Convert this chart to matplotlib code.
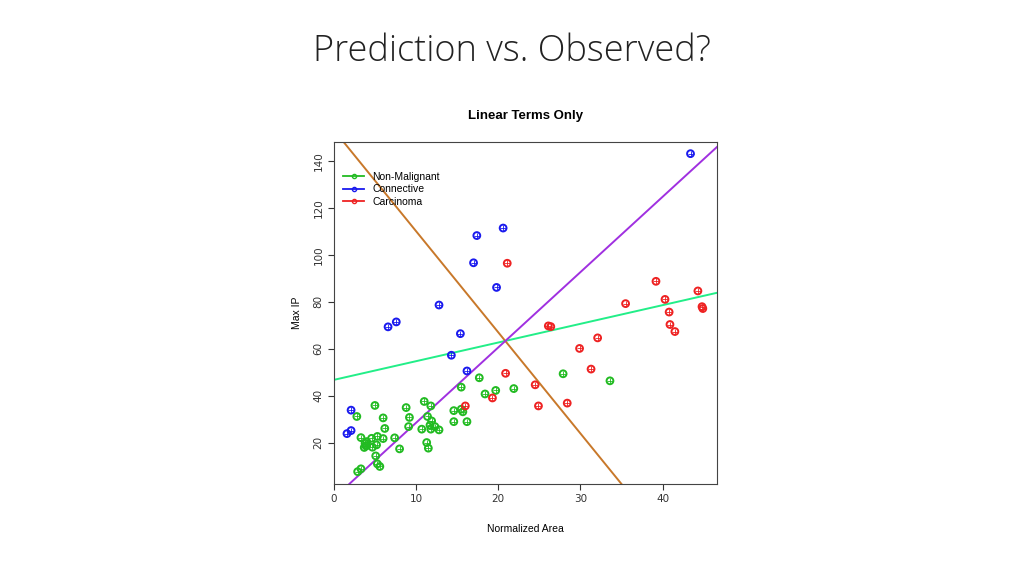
import matplotlib
matplotlib.use("Agg")
import matplotlib.pyplot as plt
from matplotlib.lines import Line2D

green_x = [2.8,2.9,3.3,3.3,3.7,3.8,3.9,4.0,4.0,4.6,4.7,5.0,5.1,5.2,5.3,5.3,5.6,6.0,6.0,6.2,7.4,8.0,8.8,9.2,9.1,10.7,11.0,11.3,11.5,11.4,11.8,11.7,11.9,11.8,12.3,12.8,14.6,14.6,15.5,15.7,15.5,16.2,17.7,18.4,19.7,21.9,27.9,33.6]
green_y = [31.1,7.6,8.8,22.1,17.9,19.7,18.6,20.4,18.7,21.8,18.0,35.8,14.3,19.0,22.6,10.9,9.8,30.5,21.7,26.0,22.0,17.3,34.9,30.7,26.8,25.7,37.5,20.0,17.6,31.1,35.6,27.4,29.2,25.7,26.8,25.4,33.6,28.9,34.2,33.1,43.6,28.9,47.6,40.7,42.2,43.0,49.3,46.3]
blue_x = [43.4,17.4,20.6,17.0,19.8,12.8,7.6,6.6,15.4,14.3,16.2,2.1,2.1,1.6]
blue_y = [143.1,108.2,111.4,96.6,86.1,78.6,71.4,69.3,66.4,57.2,50.5,33.8,25.1,23.8]
red_x = [26.1,26.4,29.9,32.1,31.3,40.9,41.5,35.5,39.2,40.3,40.8,44.3,44.8,44.9,21.1,16.0,20.9,19.3,24.5,24.9,28.4]
red_y = [69.7,69.4,60.1,64.6,51.3,70.3,67.3,79.2,88.7,81.0,75.6,84.6,77.9,77.1,96.4,35.6,49.5,39.0,44.6,35.6,36.8]

line_names = ["green fit", "orange fit", "purple fit"]
line_intercepts = [46.7, 153.2, -3.7]
line_slopes = [0.796, -4.31, 3.21]
line_colors = ["#22ee88", "#c8782a", "#a030e0"]

x_ticks = [0, 10, 20, 30, 40]
y_ticks = [20, 40, 60, 80, 100, 120, 140]

fig = plt.figure(figsize=(10.24, 5.76), dpi=100)
fig.text(0.5, 0.91, "Prediction vs. Observed?", ha="center", va="center",
         fontsize=26, family="Open Sans", fontweight="light", color="#222222")
ax = fig.add_axes([0.326, 0.160, 0.374, 0.594])
ax.set_xlim(0, 46.6)
ax.set_ylim(2.4, 148.2)

for b, m, c in zip(line_intercepts, line_slopes, line_colors):
    ax.axline((0, b), slope=m, color=c, lw=1.4, zorder=1)

def pts(xs, ys, col):
    ax.scatter(xs, ys, s=24, facecolors="none", edgecolors=col, linewidths=1.4, zorder=3)
    ax.scatter(xs, ys, s=14, marker="+", color=col, linewidths=0.6, zorder=3)

pts(green_x, green_y, "#22bb22")
pts(blue_x, blue_y, "#1a1aee")
pts(red_x, red_y, "#ee2222")

ax.set_xticks(x_ticks)
ax.set_yticks(y_ticks)
ax.tick_params(labelsize=7.5, colors="#333333", length=4)
for lab in ax.get_yticklabels():
    lab.set_rotation(90)
    lab.set_va("center")
ax.set_xlabel("Normalized Area", fontsize=7.5, family="Liberation Sans", labelpad=14)
ax.set_ylabel("Max IP", fontsize=7.5, family="Liberation Sans", labelpad=8)
ax.set_title("Linear Terms Only", fontsize=9.5, fontweight="bold", family="Liberation Sans", pad=16)
for s in ax.spines.values():
    s.set_color("#444444")

handles = [Line2D([0], [0], color=c, marker="o", markersize=3, markerfacecolor="none", lw=1.3)
           for c in ["#22bb22", "#1a1aee", "#ee2222"]]
ax.legend(handles, ["Non-Malignant", "Connective", "Carcinoma"], loc="upper left",
          bbox_to_anchor=(0.0, 0.94), frameon=False, handlelength=2,
          labelspacing=0.25, prop={"family": "Liberation Sans", "size": 7.5})

fig.savefig("out.png", dpi=100)
